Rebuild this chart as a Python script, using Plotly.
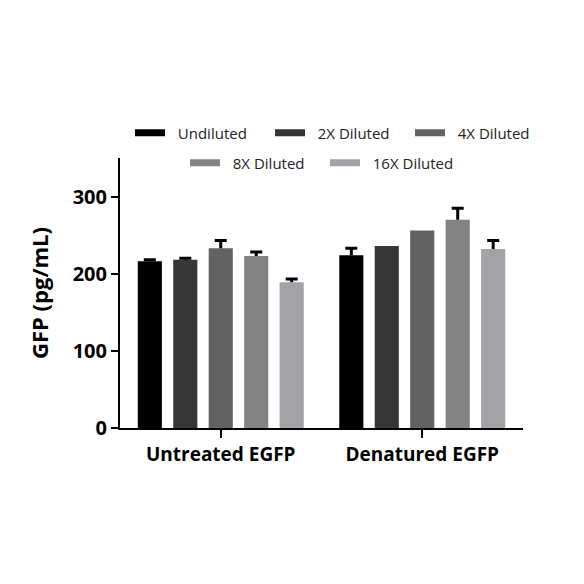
import plotly.graph_objects as go

groups = ["Untreated EGFP", "Denatured EGFP"]
series = ["Undiluted", "2X Diluted", "4X Diluted", "8X Diluted", "16X Diluted"]
colors = ["#000000", "#363636", "#626262", "#838383", "#a3a3a7"]

# mean values per series, [Untreated, Denatured]
means = {
    "Undiluted": [216, 224],
    "2X Diluted": [218, 236],
    "4X Diluted": [233, 256],
    "8X Diluted": [223, 270],
    "16X Diluted": [189, 232],
}
# upward error (SD); None = no error bar shown
errors = {
    "Undiluted": [2, 9],
    "2X Diluted": [2, None],
    "4X Diluted": [10, None],
    "8X Diluted": [5, 15],
    "16X Diluted": [4, 11],
}

FONT = "Open Sans"
OFF = 8  # page body margin of the browser

fig = go.Figure()

for name, col in zip(series, colors):
    err = errors[name]
    # bar + error stem (no caps)
    fig.add_trace(go.Bar(
        x=groups,
        y=means[name],
        name=name,
        offsetgroup=name,
        marker=dict(color=col, line=dict(width=0)),
        error_y=dict(type='data',
                     array=[e if e is not None else "NaN" for e in err],
                     arrayminus=[0 if e is not None else "NaN" for e in err],
                     symmetric=False, color='black', thickness=3, width=0),
        showlegend=False, hoverinfo='skip'
    ))
    # cap on top of the error stem only (T shape)
    fig.add_trace(go.Bar(
        x=groups,
        y=[m + e if e is not None else None for m, e in zip(means[name], err)],
        offsetgroup=name,
        marker=dict(color='rgba(0,0,0,0)', line=dict(width=0)),
        error_y=dict(type='data', array=[0, 0], color='black',
                     thickness=3, width=6),
        showlegend=False, hoverinfo='skip'
    ))

# one legend per entry so the two rows can be placed like the original
legend_pos = [(135, 133), (275, 133), (415, 133), (190, 163), (330, 163)]
legends = {}
for i, (name, col) in enumerate(zip(series, colors)):
    key = 'legend' if i == 0 else f'legend{i + 1}'
    fig.add_trace(go.Scatter(
        x=[None], y=[None], mode='lines', name='\u00a0\u00a0' + name,
        line=dict(color=col, width=7),
        legend=key
    ))
    px, py = legend_pos[i]
    legends[key] = dict(
        orientation='h', xanchor='left', yanchor='middle',
        xref='container', yref='container',
        x=(px - 5 - OFF) / 584, y=1 - (py - OFF) / 584,
        font=dict(family=FONT, size=15, color='#222'),
        itemwidth=30, bgcolor='rgba(0,0,0,0)'
    )

fig.update_layout(
    width=584, height=584,
    margin=dict(l=120 - OFF, r=61 + OFF, t=158 - OFF, b=156 + OFF, autoexpand=False),
    plot_bgcolor='white', paper_bgcolor='white',
    barmode='group', bargap=0.12, bargroupgap=0.32,
    xaxis=dict(
        range=[-0.5, 1.5], showline=True, linecolor='black', linewidth=2,
        ticks='outside', ticklen=8, tickwidth=2, tickcolor='black',
        tickfont=dict(family=FONT, size=19, color='black', weight='bold'),
        showgrid=False, zeroline=False
    ),
    yaxis=dict(
        range=[0, 350], tickvals=[0, 100, 200, 300],
        showline=True, linecolor='black', linewidth=2,
        ticks='outside', ticklen=7, tickwidth=2, tickcolor='black',
        tickfont=dict(family=FONT, size=20, color='black', weight='bold'),
        title=dict(text='GFP (pg/mL)', standoff=18,
                   font=dict(family=FONT, size=22, color='black', weight='bold')),
        showgrid=False, zeroline=False
    ),
    **legends
)

fig.write_html("out.html")
